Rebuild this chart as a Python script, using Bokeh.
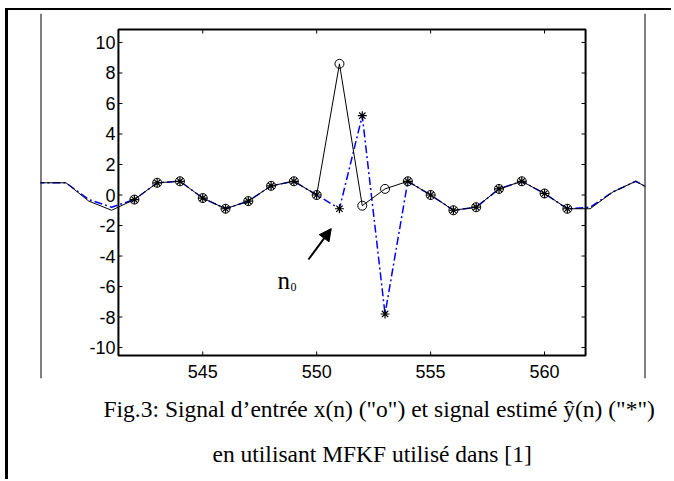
from bokeh.plotting import figure
from bokeh.models import ColumnDataSource, Arrow, NormalHead, Title, Range1d
from bokeh.core.properties import value
from bokeh.embed import file_html
from bokeh.resources import INLINE

# ---------------- data ----------------
n = list(range(537, 566))
x_in = [0.8, 0.8, 0.8, -0.4, -1.0, -0.3, 0.8, 0.9, -0.2, -0.9, -0.4, 0.6, 0.9, 0.0,
        8.6, -0.7, 0.4, 0.9, 0.0, -1.0, -0.8, 0.4, 0.9, 0.1, -0.9, -0.9, 0.2, 0.9, 0.1]
y_est = [0.8, 0.8, 0.8, -0.3, -0.8, -0.3, 0.8, 0.9, -0.2, -0.9, -0.4, 0.6, 0.9, 0.0,
         -0.9, 5.2, -7.8, 0.9, 0.0, -1.0, -0.8, 0.4, 0.9, 0.1, -0.9, -0.8, 0.2, 0.9, 0.1]
x_ticks = [545, 550, 555, 560]
y_ticks = [-10, -8, -6, -4, -2, 0, 2, 4, 6, 8, 10]
x_tick_labels = [str(t) for t in x_ticks]
y_tick_labels = [str(t) for t in y_ticks]
caption1 = "Fig.3: Signal d\u2019entr\u00e9e x(n) (\"o\") et signal estim\u00e9  \u0177(n) (\"*\")"
caption2 = "en utilisant MFKF utilis\u00e9 dans [1]"

# ---------------- layout ----------------
AX_X = (541.3, 561.8)      # inner axes box limits
AX_Y = (-10.52, 10.85)
VIEW_X = (537.88, 564.43)  # visible (clipped) region
VIEW_Y = (-12.03, 11.90)
TICK_LEN_X = 4 / 22.8
TICK_LEN_Y = 4 / 15.25

p = figure(width=666, height=471, output_backend="svg", toolbar_location=None,
           x_range=Range1d(*VIEW_X), y_range=Range1d(*VIEW_Y),
           x_axis_location=None, y_axis_location=None,
           min_border_left=32, min_border_right=29, min_border_top=3,
           min_border_bottom=103)
p.grid.visible = False
p.outline_line_color = None
p.background_fill_color = "white"
p.border_fill_color = "white"
p.styles = {"margin-left": "5px", "margin-top": "8px",
            "border-left": "3px solid black", "border-top": "2px solid black"}

# thin vertical lines at view edges
p.segment(x0=[VIEW_X[0], VIEW_X[1]], y0=[VIEW_Y[0]] * 2,
          x1=[VIEW_X[0], VIEW_X[1]], y1=[VIEW_Y[1]] * 2,
          line_color="black", line_width=2)

src = ColumnDataSource(dict(n=n, x=x_in, y=y_est))
p.line("n", "y", source=src, line_color="#0000ff", line_width=1.5, line_dash="8 3 2 3")
p.line("n", "x", source=src, line_color="black", line_width=1)

inside = [i for i, v in enumerate(n) if AX_X[0] <= v <= AX_X[1]]
msrc = ColumnDataSource(dict(n=[n[i] for i in inside], x=[x_in[i] for i in inside],
                             y=[y_est[i] for i in inside]))
p.scatter("n", "x", source=msrc, marker="circle", size=9, fill_color=None,
          line_color="black", line_width=1)
p.scatter("n", "y", source=msrc, marker="asterisk", size=9,
          line_color="black", line_width=1.2)

# inner axes box
p.quad(left=[AX_X[0]], right=[AX_X[1]], bottom=[AX_Y[0]], top=[AX_Y[1]],
       fill_color=None, line_color="black", line_width=2)

# tick marks (inside)
p.segment(x0=x_ticks, y0=[AX_Y[0]] * len(x_ticks), x1=x_ticks,
          y1=[AX_Y[0] + TICK_LEN_Y] * len(x_ticks), line_color="black", line_width=1)
p.segment(x0=x_ticks, y0=[AX_Y[1]] * len(x_ticks), x1=x_ticks,
          y1=[AX_Y[1] - TICK_LEN_Y] * len(x_ticks), line_color="black", line_width=1)
p.segment(x0=[AX_X[0]] * len(y_ticks), y0=y_ticks, x1=[AX_X[0] + TICK_LEN_X] * len(y_ticks),
          y1=y_ticks, line_color="black", line_width=1)
p.segment(x0=[AX_X[1]] * len(y_ticks), y0=y_ticks, x1=[AX_X[1] - TICK_LEN_X] * len(y_ticks),
          y1=y_ticks, line_color="black", line_width=1)

# tick labels
p.text(x=[AX_X[0]] * len(y_ticks), y=y_ticks, text=y_tick_labels, x_offset=-3,
       text_align="right", text_baseline="middle", text_font=value("Liberation Sans"),
       text_font_size="18px", text_color="black")
p.text(x=x_ticks, y=[AX_Y[0]] * len(x_ticks), text=x_tick_labels, y_offset=10,
       text_align="center", text_baseline="top", text_font=value("Liberation Sans"),
       text_font_size="18px", text_color="black")

# n0 annotation
p.text(x=[548.28], y=[-5.6], text=["n"], text_align="left", text_baseline="alphabetic",
       text_font=value("Liberation Serif"), text_font_size="25px", text_color="black")
p.text(x=[548.85], y=[-6.0], text=["0"], text_align="left", text_baseline="alphabetic",
       text_font=value("Liberation Serif"), text_font_size="12px", text_color="black")
p.add_layout(Arrow(end=NormalHead(size=12, fill_color="black", line_color="black"),
                   x_start=549.64, y_start=-4.23, x_end=550.64, y_end=-2.2,
                   line_color="black", line_width=2))

# caption (two titles below the plot)
t1 = Title(text=caption1, align="left", offset=63, standoff=30,
           text_font="Liberation Serif", text_font_size="23.5px",
           text_font_style="normal", text_color="black")
t2 = Title(text=caption2, align="left", offset=172, standoff=5,
           text_font="Liberation Serif", text_font_size="23.5px",
           text_font_style="normal", text_color="black")
p.add_layout(t1, "below")
p.add_layout(t2, "below")

open("out.html", "w").write(file_html(p, INLINE))
